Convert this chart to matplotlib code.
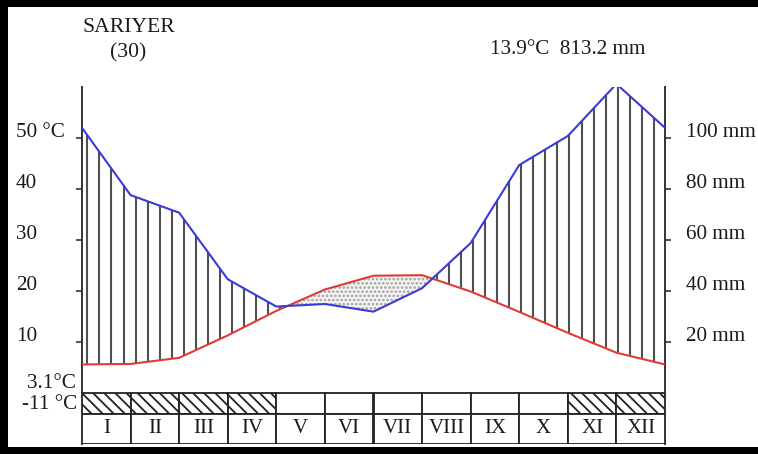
import numpy as np
import matplotlib
matplotlib.use("Agg")
import matplotlib.pyplot as plt
from matplotlib.patches import Rectangle
import matplotlib.transforms as mtransforms

plt.rcParams['font.family'] = ['Liberation Serif', 'DejaVu Serif']
plt.rcParams['hatch.linewidth'] = 1.3

# data
station = 'SARIYER'
years = '(30)'
months = ['I', 'II', 'III', 'IV', 'V', 'VI', 'VII', 'VIII', 'IX', 'X', 'XI', 'XII']
temp = [5.6, 5.7, 6.9, 11.3, 16.1, 20.3, 23.0, 23.1, 19.9, 15.9, 11.8, 7.9]        # °C
precip = [104.0, 77.6, 70.7, 44.6, 33.9, 34.9, 31.9, 41.1, 58.8, 89.4, 100.8, 121.2]  # mm
frost = [True, True, True, True, False, False, False, False, False, False, True, True]
mean_temp = 13.9
total_precip = 813.2
min_cold_month = 3.1
abs_min = -11
temp_ticks = [10, 20, 30, 40, 50]
precip_ticks = [20, 40, 60, 80, 100]

W, H = 758, 454
fig = plt.figure(figsize=(W / 100, H / 100), dpi=100)
ax = fig.add_axes([82 / W, 10 / H, 583 / W, 357 / H])
ax.set_xlim(0, 12)
ax.set_ylim(-10, 60)

# curves: Jan repeated at the end to close the year
x = np.arange(13)
t = np.array(temp + temp[:1])
p = np.array(precip + precip[:1]) / 2.0   # 20 mm = 10 °C

# humid period: vertical lines between temp and precip
xh = np.linspace(0.11, 11.77, 48)
th = np.interp(xh, x, t)
ph = np.interp(xh, x, p)
wet = ph > th
ax.vlines(xh[wet], th[wet], ph[wet], color='#505050', lw=1.5, zorder=2)

# arid period: dotted fill
xf = np.linspace(0, 12, 600)
tf = np.interp(xf, x, t)
pf = np.interp(xf, x, p)
ax.fill_between(xf, pf, tf, where=tf > pf, facecolor='#f6f6f6', edgecolor='#a0a0a0',
                hatch='....', lw=0, zorder=1)

ax.plot(x, t, color='#e03a3a', lw=1.5, zorder=3)
ax.plot(x, p, color='#3a3ad8', lw=1.5, zorder=4)

# month boxes
for i, m in enumerate(months):
    ax.add_patch(Rectangle((i, -4.1), 1, 4.1, facecolor='white', edgecolor='#222222',
                           lw=1.3, hatch='\\\\\\' if frost[i] else None, zorder=3))
    ax.add_patch(Rectangle((i, -10), 1, 5.9, facecolor='white', edgecolor='#222222',
                           lw=1.3, zorder=3))
    ax.text(i + 0.5, -7.05, m, ha='center', va='center', fontsize=15, color='#1a1a1a')

# axes lines and ticks
for s in ['top', 'bottom']:
    ax.spines[s].set_visible(False)
for s in ['left', 'right']:
    ax.spines[s].set_bounds(-10, 60)
    ax.spines[s].set_linewidth(1.4)
    ax.spines[s].set_color('#333333')
ax.set_xticks([])
ax.set_yticks(temp_ticks)
ax.tick_params(axis='y', left=True, right=True, direction='out', length=4,
               width=1.2, color='#333333', labelleft=False, labelright=False)
ax.patch.set_alpha(0)

fs = 15.2
fx = mtransforms.blended_transform_factory(fig.transFigure, ax.transData)
for v in temp_ticks:
    lab = f'{v} °C' if v == temp_ticks[-1] else f'{v}'
    ax.text(16 / W, v + 1.0, lab, transform=fx, ha='left', va='center',
            fontsize=fs, color='#1a1a1a')
for v in precip_ticks:
    ax.text(686 / W, v / 2 + 1.0, f'{v} mm', transform=fx, ha='left', va='center',
            fontsize=fs, color='#1a1a1a')
ax.text(76 / W, 1.8, f'{min_cold_month}°C', transform=fx, ha='right', va='center',
        fontsize=fs, color='#1a1a1a')
ax.text(77 / W, -2.35, f'{abs_min} °C', transform=fx, ha='right', va='center',
        fontsize=fs, color='#1a1a1a')

# header
fig.text(129 / W, 1 - 27 / H, station, ha='center', va='center', fontsize=15.6, color='#1a1a1a')
fig.text(128 / W, 1 - 53 / H, years, ha='center', va='center', fontsize=15.6, color='#1a1a1a')
fig.text(645 / W, 1 - 50 / H, f'{mean_temp}°C  {total_precip} mm', ha='right', va='center',
         fontsize=fs, color='#1a1a1a')

# thick black frame (left, top, bottom)
for r in [(0, 0, 8 / W, 1), (0, 1 - 7 / H, 1, 7 / H), (0, 0, 1, 7 / H)]:
    fig.patches.append(Rectangle(r[:2], r[2], r[3], transform=fig.transFigure,
                                 facecolor='black', edgecolor='none'))

fig.savefig('out.png', dpi=100)
